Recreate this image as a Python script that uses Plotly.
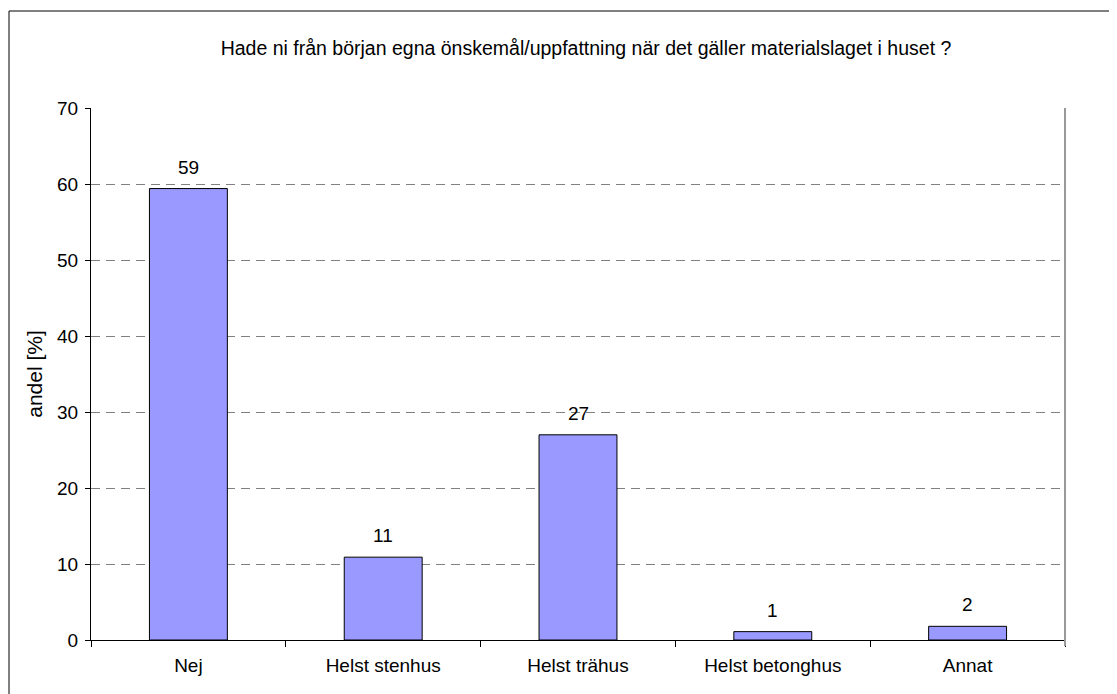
import plotly.graph_objects as go

categories = ["Nej", "Helst stenhus", "Helst trähus", "Helst betonghus", "Annat"]
values = [59.4, 10.9, 27.0, 1.1, 1.8]
title_text = "Hade ni från början egna önskemål/uppfattning när det gäller materialslaget i huset ?"
y_title = "andel [%]"
y_ticks = [0, 10, 20, 30, 40, 50, 60, 70]

FONT = "Liberation Sans, Arial, sans-serif"
FS = 19

W, H = 1117, 694
OFF = 8  # page body margin
# plot area in screen pixels: x 91..1065, y 108..640
L = 91 - OFF
T = 108 - OFF
pw = 1065 - 91
ph = 640 - 108
R = W - L - pw
B = H - T - ph

def px2x(px):
    return (px - OFF - L) / pw

def py2y(py):
    return (T + ph - (py - OFF)) / ph

fig = go.Figure()
fig.add_trace(go.Bar(
    x=categories, y=values, width=0.4,
    marker=dict(color="#9999FF", line=dict(color="black", width=1)),
    hoverinfo="skip",
))

for c, v in zip(categories, values):
    fig.add_annotation(x=c, y=v, text=f"{v:.0f}", showarrow=False,
                       yanchor="bottom", yshift=9,
                       font=dict(family=FONT, size=FS, color="black"))

fig.update_layout(
    width=W, height=H,
    margin=dict(l=L, r=R, t=T, b=B, autoexpand=False),
    paper_bgcolor="white", plot_bgcolor="white",
    showlegend=False,
    font=dict(family=FONT, size=FS, color="black"),
    title=dict(text=title_text, x=px2x(586), xref="paper", xanchor="center",
               y=1 - (48 - OFF) / H, yanchor="middle",
               font=dict(family=FONT, size=19.5, color="black")),
    xaxis=dict(type="category", range=[-0.5, 4.5], tickson="boundaries",
               ticks="outside", ticklen=6, tickcolor="black",
               showline=True, linecolor="black", linewidth=1,
               showgrid=False, zeroline=False, ticklabelstandoff=8,
               tickfont=dict(family=FONT, size=FS, color="black")),
    yaxis=dict(range=[0, 70], tickvals=y_ticks, ticks="outside", ticklen=5,
               tickcolor="black", showline=True, linecolor="black", linewidth=1,
               showgrid=True, gridcolor="#808080", griddash="9px,6px", gridwidth=1,
               zeroline=False, ticklabelstandoff=3,
               tickfont=dict(family=FONT, size=FS, color="black"),
               title=dict(text=y_title, standoff=8,
                          font=dict(family=FONT, size=21, color="black"))),
    shapes=[
        dict(type="rect", xref="paper", yref="paper",
             x0=px2x(9), x1=px2x(1130), y0=py2y(710), y1=py2y(11),
             line=dict(color="black", width=1), fillcolor="rgba(0,0,0,0)", layer="below"),
        dict(type="line", xref="paper", yref="paper",
             x0=1, x1=1, y0=py2y(646), y1=1,
             line=dict(color="#999999", width=2)),
    ],
)

fig.write_html("out.html")
